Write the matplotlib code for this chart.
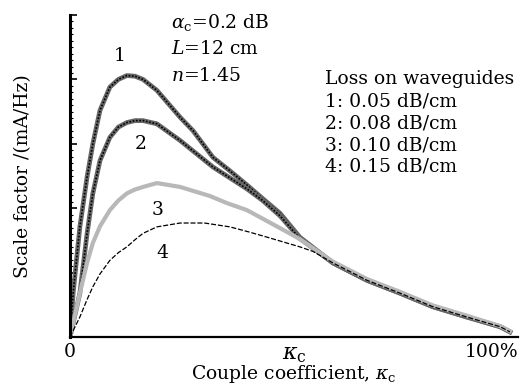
import numpy as np
import matplotlib
matplotlib.use("Agg")
import matplotlib.pyplot as plt
from matplotlib.ticker import MultipleLocator

plt.rcParams['font.family'] = 'DejaVu Serif'
plt.rcParams['mathtext.fontset'] = 'dejavuserif'

# curve data (x: fraction of full coupling, y: scale factor)
x1 = [0, 0.007, 0.022, 0.038, 0.051, 0.067, 0.089, 0.108, 0.127, 0.145, 0.163,
      0.194, 0.246, 0.275, 0.319, 0.357, 0.395, 0.430, 0.469, 0.513, 0.587,
      0.663, 0.737, 0.810, 0.886, 0.960, 0.982]
y1 = [0, 0.68, 1.71, 2.48, 3.00, 3.52, 3.88, 4.00, 4.06, 4.05, 4.00,
      3.83, 3.41, 3.20, 2.79, 2.58, 2.36, 2.15, 1.92, 1.55, 1.15,
      0.88, 0.68, 0.47, 0.31, 0.16, 0.08]

x2 = [0, 0.022, 0.038, 0.051, 0.067, 0.089, 0.108, 0.127, 0.145, 0.163, 0.194,
      0.246, 0.319, 0.357, 0.395, 0.430, 0.469, 0.513, 0.587, 0.663, 0.737,
      0.810, 0.886, 0.960, 0.982]
y2 = [0, 0.68, 1.60, 2.23, 2.74, 3.10, 3.26, 3.33, 3.36, 3.36, 3.31,
      3.05, 2.64, 2.47, 2.30, 2.12, 1.88, 1.53, 1.15, 0.88, 0.68,
      0.47, 0.31, 0.16, 0.08]

x3 = [0, 0.022, 0.038, 0.051, 0.067, 0.089, 0.108, 0.127, 0.145, 0.163, 0.194,
      0.246, 0.312, 0.350, 0.395, 0.440, 0.490, 0.513, 0.587, 0.663, 0.737,
      0.810, 0.886, 0.960, 0.982]
y3 = [0, 0.68, 1.15, 1.46, 1.72, 1.97, 2.12, 2.23, 2.29, 2.33, 2.39,
      2.33, 2.19, 2.08, 1.97, 1.80, 1.61, 1.52, 1.17, 0.90, 0.70,
      0.49, 0.33, 0.17, 0.09]

x4 = [0, 0.022, 0.038, 0.051, 0.067, 0.089, 0.108, 0.127, 0.145, 0.163, 0.194,
      0.246, 0.300, 0.357, 0.400, 0.440, 0.513, 0.542, 0.587, 0.663, 0.737,
      0.810, 0.886, 0.960, 0.982]
y4 = [0, 0.31, 0.58, 0.78, 0.98, 1.19, 1.31, 1.40, 1.51, 1.61, 1.71,
      1.77, 1.77, 1.71, 1.63, 1.55, 1.40, 1.33, 1.15, 0.88, 0.68,
      0.47, 0.31, 0.16, 0.08]

xtick_pos = [0, 0.5, 1.0]
xtick_lab = ['0', r'$\kappa_{\rm c}$', '100%']
legend_lines = ['Loss on waveguides', '1: 0.05 dB/cm', '2: 0.08 dB/cm',
                '3: 0.10 dB/cm', '4: 0.15 dB/cm']

fig = plt.figure(figsize=(5.3, 3.92), dpi=100)
ax = fig.add_axes([70/530, 55/392, 448/530, 322/392])

ax.plot(x1, y1, color='0.4', lw=3.4)
ax.plot(x1, y1, color='k', lw=1.2, ls=(0, (1, 1)))
ax.plot(x2, y2, color='0.4', lw=3.4)
ax.plot(x2, y2, color='k', lw=1.2, ls=(0, (1, 1)))
ax.plot(x3, y3, color='0.72', lw=3.0)
ax.plot(x4, y4, color='k', lw=0.9, ls=(0, (4, 1.5)))

ax.set_xlim(0, 1.0)
ax.set_ylim(0, 5)
for s in ['top', 'right']:
    ax.spines[s].set_visible(False)
ax.spines['left'].set_linewidth(2.2)
ax.spines['bottom'].set_linewidth(1.6)

ax.yaxis.set_major_locator(MultipleLocator(1))
ax.yaxis.set_minor_locator(MultipleLocator(0.1))
ax.tick_params(axis='y', which='major', direction='in', length=5, width=1.2, labelleft=False)
ax.tick_params(axis='y', which='minor', direction='in', length=2, width=0.8)
ax.set_xticks(xtick_pos)
ax.set_xticklabels(xtick_lab, fontsize=13.5)
ax.tick_params(axis='x', length=0, pad=4)
labs = ax.get_xticklabels()
labs[1].set_fontsize(16)
labs[2].set_ha('right')

ax.set_ylabel('Scale factor /(mA/Hz)', fontsize=13.5, labelpad=24)
ax.set_xlabel(r'Couple coefficient, $\kappa_{\rm c}$', fontsize=13.5, labelpad=-1)

ax.text(0.225, 4.88, r'$\alpha_{\rm c}$=0.2 dB', fontsize=13.5, va='center')
ax.text(0.225, 4.47, r'$L$=12 cm', fontsize=13.5, va='center')
ax.text(0.225, 4.05, r'$n$=1.45', fontsize=13.5, va='center')

ax.text(0.112, 4.37, '1', fontsize=13.5, ha='center', va='center')
ax.text(0.158, 3.0, '2', fontsize=13.5, ha='center', va='center')
ax.text(0.195, 1.97, '3', fontsize=13.5, ha='center', va='center')
ax.text(0.207, 1.30, '4', fontsize=13.5, ha='center', va='center')

for i, t in enumerate(legend_lines):
    ax.text(0.57, 4.0 - i * 0.34, t, fontsize=13.5, va='center')

fig.savefig('out.png', dpi=100)
